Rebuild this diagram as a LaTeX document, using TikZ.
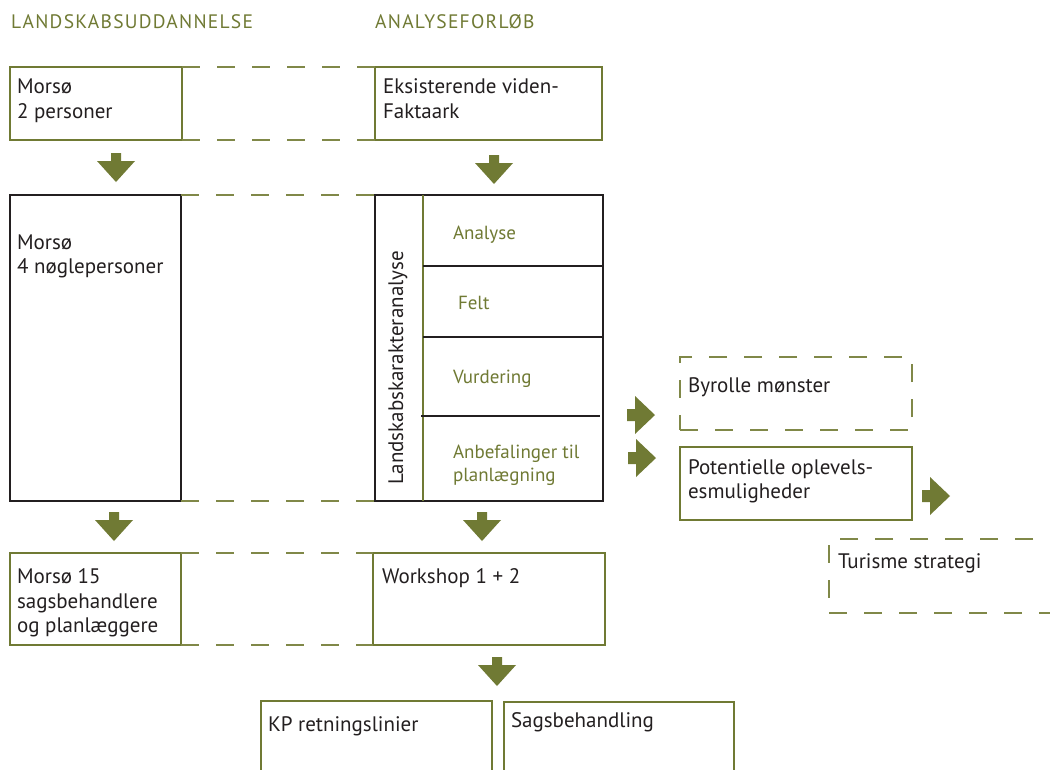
\documentclass[tikz,border=0pt]{standalone}
\usepackage{fontspec}
\setmainfont{PT Sans}
\definecolor{olv}{RGB}{112,122,52}
\definecolor{olvl}{RGB}{128,136,72}
\definecolor{blk}{RGB}{35,31,32}
\tikzset{
  boxbase/.style={rectangle, inner sep=0pt, outer sep=0pt, anchor=north west, line width=2pt},
  gbox/.style={boxbase, draw=olv},
  kbox/.style={boxbase, draw=blk},
  dbox/.style={boxbase, draw=olvl, dash pattern=on 18pt off 17pt},
  dline/.style={draw=olvl, line width=1.8pt, dash pattern=on 18pt off 17pt},
  txt/.style={anchor=base west, inner sep=0pt, outer sep=0pt, text=blk, font=\fontsize{21}{25}\selectfont},
  gtxt/.style={txt, text=olv, font=\fontsize{19}{23}\selectfont},
  ttl/.style={anchor=base west, inner sep=0pt, text=olv, font=\fontsize{19.5}{24}\selectfont\addfontfeature{LetterSpace=6.5}},
  sepline/.style={draw=blk, line width=2pt},
  downarr/.pic={\fill[olv] (-5,0) -- (5,0) -- (5,8) -- (19,8) -- (0,29) -- (-19,8) -- (-5,8) -- cycle;},
  rightarr/.pic={\fill[olv] (0,-6) -- (8,-6) -- (8,-19) -- (28,0) -- (8,19) -- (8,6) -- (0,6) -- cycle;}
}
\begin{document}
\begin{tikzpicture}[x=1pt,y=-1pt]
\useasboundingbox[fill=white] (0,0) rectangle (1050,769);

% titles
\node[ttl] (t1) at (11,28) {LANDSKABSUDDANNELSE};
\node[ttl] (t2) at (375,28) {ANALYSEFORLØB};

% row 1
\node[gbox, minimum width=172, minimum height=73] (b1) at (10,67) {};
\node[gbox, minimum width=227, minimum height=73] (b2) at (375,67) {};
\node[txt] (b1t1) at (17,93) {Morsø};
\node[txt] (b1t2) at (17,118) {2 personer};
\node[txt] (b2t1) at (383,93) {Eksisterende viden-};
\node[txt] (b2t2) at (383,118) {Faktaark};
\draw[dline] (b1.north east) -- (b2.north west);
\draw[dline] (b1.south east) -- (b2.south west);

\pic (a1) at (116,153) {downarr};
\pic (a2) at (494,155) {downarr};

% row 2
\node[kbox, minimum width=171, minimum height=306] (b3) at (10,195) {};
\node[txt] (b3t1) at (17,249) {Morsø};
\node[txt] (b3t2) at (17,273) {4 nøglepersoner};
\node[kbox, minimum width=228, minimum height=306] (lk) at (375,195) {};
\coordinate (vt) at (423,195);
\coordinate (vb) at (423,501);
\draw[olv, line width=2pt] (vt) -- (vb);
\coordinate (s1a) at (423,266); \coordinate (s1b) at (603,266);
\coordinate (s2a) at (423,337); \coordinate (s2b) at (603,337);
\coordinate (s3a) at (421,416); \coordinate (s3b) at (600,416);
\draw[sepline] (s1a) -- (s1b);
\draw[sepline] (s2a) -- (s2b);
\draw[sepline] (s3a) -- (s3b);
\node[rotate=90, inner sep=0pt, text=blk, font=\fontsize{21}{25}\selectfont] (lkt) at (398,368) {Landskabskarakteranalyse};
\node[gtxt] (an) at (453,239) {Analyse};
\node[gtxt] (fe) at (458,309) {Felt};
\node[gtxt] (vu) at (453,383) {Vurdering};
\node[gtxt] (ab1) at (453,458) {Anbefalinger til};
\node[gtxt] (ab2) at (453,481) {planlægning};
\draw[dline] (b3.north east) -- (lk.north west);
\draw[dline] (b3.south east) -- (lk.south west);

% right side
\pic (r1) at (627,415) {rightarr};
\pic (r2) at (628,458) {rightarr};
\node[dbox, minimum width=232, minimum height=73] (by) at (680,357) {};
\node[txt] (byt) at (688,392) {Byrolle mønster};
\node[gbox, minimum width=232, minimum height=73] (po) at (680,447) {};
\node[txt] (pot1) at (688,474) {Potentielle oplevels-};
\node[txt] (pot2) at (688,498) {esmuligheder};
\pic (r3) at (922,496) {rightarr};
\node[dbox, minimum width=240, minimum height=74] (tu) at (829,539) {};
\node[txt] (tut) at (838,568) {Turisme strategi};

\pic (a3) at (114,512) {downarr};
\pic (a4) at (482,512) {downarr};

% row 3
\node[gbox, minimum width=171, minimum height=92] (b5) at (10,553) {};
\node[txt] (b5t1) at (17,583) {Morsø 15};
\node[txt] (b5t2) at (17,608) {sagsbehandlere};
\node[txt] (b5t3) at (17,632) {og planlæggere};
\node[gbox, minimum width=232, minimum height=92] (ws) at (373,553) {};
\node[txt] (wst) at (382,583) {Workshop 1 + 2};
\draw[dline] (b5.north east) -- (ws.north west);
\draw[dline] (b5.south east) -- (ws.south west);

\pic (a5) at (497,657) {downarr};

% bottom
\node[gbox, minimum width=231, minimum height=120] (kp) at (261,701) {};
\node[txt] (kpt) at (268,731) {KP retningslinier};
\node[gbox, minimum width=230, minimum height=120] (sa) at (504,702) {};
\node[txt] (sat) at (511,727) {Sagsbehandling};
\end{tikzpicture}
\end{document}
